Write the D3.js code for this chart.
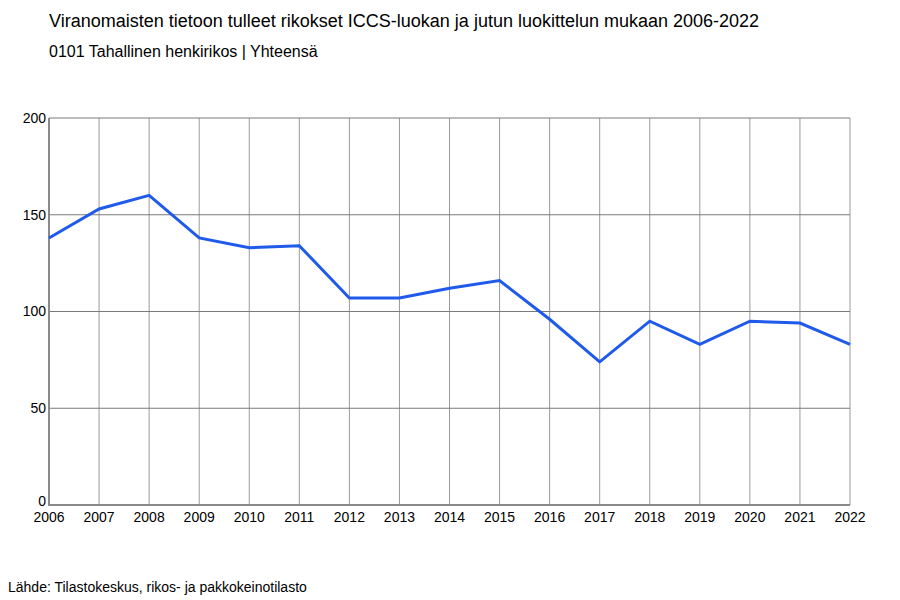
<!DOCTYPE html>
<html lang="fi">
<head>
<meta charset="utf-8">
<title>Viranomaisten tietoon tulleet rikokset</title>
<script src="https://d3js.org/d3.v7.min.js"></script>
<style>
  body { margin: 0; background: #fff; }
  svg { font-family: "Liberation Sans", Arial, sans-serif; }
</style>
</head>
<body>
<script>
// data
const years = ["2006","2007","2008","2009","2010","2011","2012","2013","2014","2015","2016","2017","2018","2019","2020","2021","2022"];
const values = [138, 153, 160, 138, 133, 134, 107, 107, 112, 116, 96, 74, 95, 83, 95, 94, 83];
const yTicks = [0, 50, 100, 150, 200];

const width = 900, height = 600;
const plotLeft = 49, plotRight = 850, plotTop = 118, plotBottom = 505;

const svg = d3.select("body").append("svg")
    .attr("width", width)
    .attr("height", height);

const x = d3.scalePoint().domain(years).range([plotLeft, plotRight]);
const y = d3.scaleLinear().domain([0, 200]).range([plotBottom, plotTop]);

// titles
svg.append("text").attr("x", 49).attr("y", 27)
    .style("font-size", "18px").attr("fill", "#000")
    .text("Viranomaisten tietoon tulleet rikokset ICCS-luokan ja jutun luokittelun mukaan 2006-2022");
svg.append("text").attr("x", 49).attr("y", 57)
    .style("font-size", "16px").attr("fill", "#000")
    .text("0101 Tahallinen henkirikos | Yhteensä");

// vertical grid
svg.append("g").selectAll("line")
    .data(years.slice(1))
    .join("line")
    .attr("x1", d => x(d)).attr("x2", d => x(d))
    .attr("y1", plotTop).attr("y2", plotBottom)
    .attr("stroke", "#9a9a9a").attr("stroke-width", 1);

// horizontal grid
svg.append("g").selectAll("line")
    .data(yTicks.slice(1))
    .join("line")
    .attr("x1", plotLeft).attr("x2", plotRight)
    .attr("y1", d => y(d)).attr("y2", d => y(d))
    .attr("stroke", "#7a7a7a").attr("stroke-width", 1);

// axis lines
svg.append("line").attr("x1", plotLeft).attr("x2", plotLeft).attr("y1", plotTop).attr("y2", plotBottom)
    .attr("stroke", "#8a8a8a").attr("stroke-width", 2);
svg.append("line").attr("x1", plotLeft - 1).attr("x2", plotRight).attr("y1", plotBottom).attr("y2", plotBottom)
    .attr("stroke", "#8a8a8a").attr("stroke-width", 2);

// y labels
svg.append("g").selectAll("text")
    .data(yTicks)
    .join("text")
    .attr("x", plotLeft - 3)
    .attr("y", d => y(d) - (d === 0 ? 4 : 0))
    .attr("dy", "0.35em")
    .attr("text-anchor", "end")
    .style("font-size", "14px")
    .text(d => d);

// x labels
svg.append("g").selectAll("text")
    .data(years)
    .join("text")
    .attr("x", d => x(d))
    .attr("y", plotBottom + 17)
    .attr("text-anchor", "middle")
    .style("font-size", "14px")
    .text(d => d);

// line
const line = d3.line()
    .x((d, i) => x(years[i]))
    .y(d => y(d));

svg.append("path")
    .datum(values)
    .attr("d", line)
    .attr("fill", "none")
    .attr("stroke", "#1f5aea")
    .attr("stroke-width", 3)
    .attr("stroke-linejoin", "miter");

// source
svg.append("text").attr("x", 8).attr("y", 592)
    .style("font-size", "14px")
    .text("Lähde: Tilastokeskus, rikos- ja pakkokeinotilasto");
</script>
</body>
</html>
